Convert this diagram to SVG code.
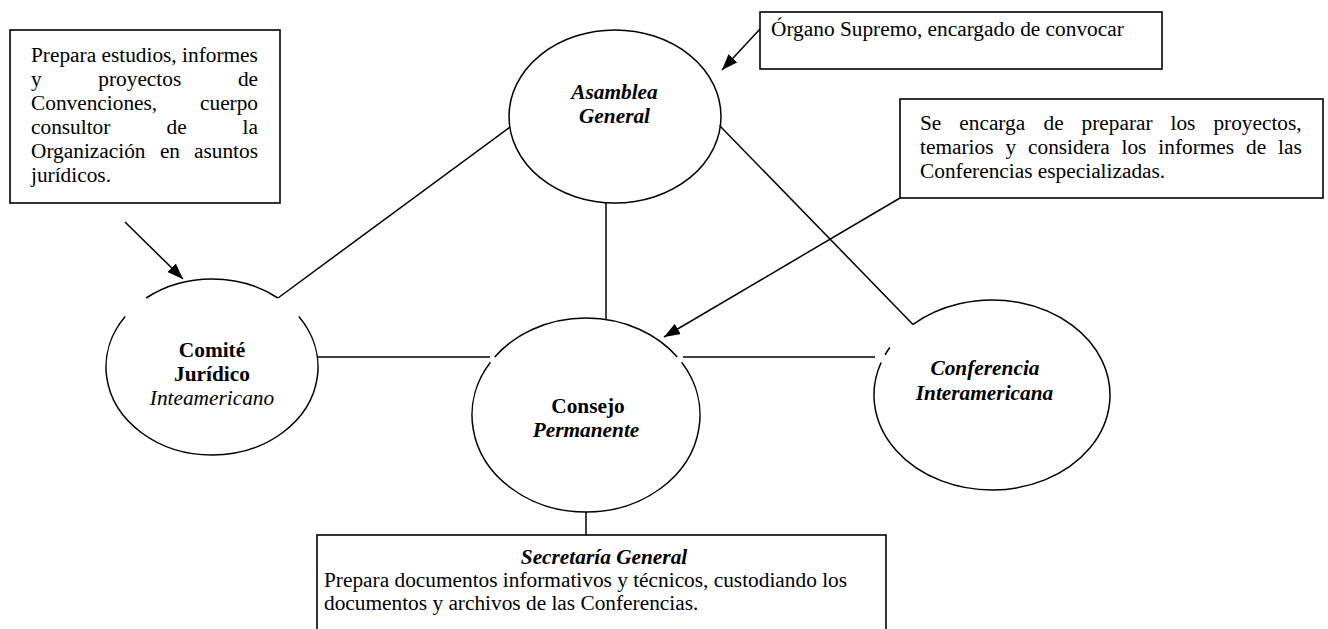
<svg xmlns="http://www.w3.org/2000/svg" width="1328" height="629" viewBox="0 0 1328 629">
<style>
  text { font-family: "Liberation Serif", "Times New Roman", serif; font-size: 21.33px; fill: #000; }
  .b { font-weight: bold; }
  .i { font-style: italic; }
  .bi { font-weight: bold; font-style: italic; }
  .shape { fill: none; stroke: #000; stroke-width: 1.5; }
  .box { fill: #fff; stroke: #000; stroke-width: 1.6; }
  .conn { fill: none; stroke: #000; stroke-width: 1.5; }
  .mid { text-anchor: middle; }
</style>
<defs>
  <marker id="arrow" markerUnits="userSpaceOnUse" markerWidth="17" markerHeight="13" refX="16" refY="6" orient="auto">
    <path d="M0,0 L16,6 L0,12 z" fill="#000"/>
  </marker>
</defs>
<rect width="1328" height="629" fill="#fff"/>

<g id="connectors">
  <line class="conn" x1="278" y1="298" x2="510" y2="127"/>
  <line class="conn" x1="606" y1="203" x2="606" y2="319.5"/>
  <line class="conn" x1="719.5" y1="125.5" x2="913" y2="324.4"/>
  <line class="conn" x1="318" y1="357" x2="490" y2="357"/>
  <line class="conn" x1="683" y1="357" x2="875" y2="357"/>
  <line class="conn" x1="586" y1="512" x2="586" y2="535"/>
  <line class="conn" x1="125" y1="222" x2="183" y2="279" marker-end="url(#arrow)"/>
  <line class="conn" x1="760" y1="29" x2="722" y2="70" marker-end="url(#arrow)"/>
  <line class="conn" x1="900" y1="198" x2="664" y2="337" marker-end="url(#arrow)"/>
</g>

<g id="note-juridico">
  <rect class="box" x="10" y="30" width="270" height="173"/>
  <text y="61.5"><tspan x="31">Prepara estudios, informes</tspan></text>
  <text y="85.5"><tspan x="31">y</tspan><tspan x="98.3">proyectos</tspan><tspan x="237.9">de</tspan></text>
  <text y="109.5"><tspan x="31">Convenciones,</tspan><tspan x="200">cuerpo</tspan></text>
  <text y="133.5"><tspan x="31">consultor</tspan><tspan x="166.5">de</tspan><tspan x="242.6">la</tspan></text>
  <text y="157.5"><tspan x="31">Organización</tspan><tspan x="159.9">en</tspan><tspan x="194">asuntos</tspan></text>
  <text y="181.5"><tspan x="31">jurídicos.</tspan></text>
</g>

<g id="note-organo">
  <rect class="box" x="760" y="12" width="402" height="57"/>
  <text x="771" y="36">Órgano Supremo, encargado de convocar</text>
</g>

<g id="note-conferencias">
  <rect class="box" x="900" y="99" width="423" height="99"/>
  <text y="130"><tspan x="920">Se</tspan><tspan x="959.3">encarga</tspan><tspan x="1043.5">de</tspan><tspan x="1081.6">preparar</tspan><tspan x="1170.5">los</tspan><tspan x="1213.4">proyectos,</tspan></text>
  <text y="154"><tspan x="920">temarios</tspan><tspan x="1005.4">y</tspan><tspan x="1028">considera</tspan><tspan x="1121.5">los</tspan><tspan x="1158.3">informes</tspan><tspan x="1246">de</tspan><tspan x="1278">las</tspan></text>
  <text x="920" y="178">Conferencias especializadas.</text>
</g>

<g id="node-asamblea">
  <ellipse class="shape" cx="615" cy="116.5" rx="106" ry="86.5"/>
  <text class="bi mid" x="614.5" y="99">Asamblea</text>
  <text class="bi mid" x="614.5" y="123">General</text>
</g>

<g id="node-comite">
  <path class="shape" d="M298.8,316.5 A106,88 0 1 1 125.2,316.5"/>
  <path class="shape" d="M146.2,298 A106,88 0 0 1 277.8,298"/>
  <text class="b mid" x="212" y="357">Comité</text>
  <text class="b mid" x="212" y="381">Jurídico</text>
  <text class="i mid" x="212" y="405">Inteamericano</text>
</g>

<g id="node-consejo">
  <path class="shape" d="M681.6,362.2 A114,97 0 1 1 490.4,362.2"/>
  <path class="shape" d="M494.7,357 A114,97 0 0 1 677.3,357"/>
  <text class="b mid" x="588" y="413">Consejo</text>
  <text class="bi mid" x="586" y="437">Permanente</text>
</g>

<g id="node-conferencia">
  <path class="shape" d="M913,324.4 A118,95 0 1 1 881.1,362.5"/>
  <path class="shape" d="M885.1,354.8 A118,95 0 0 1 889.8,347.5"/>
  <text class="bi mid" x="985" y="375">Conferencia</text>
  <text class="bi mid" x="984.5" y="399.5">Interamericana</text>
</g>

<g id="node-secretaria">
  <rect class="box" x="317" y="535" width="569" height="110"/>
  <text class="bi mid" x="604" y="563.5">Secretaría General</text>
  <text x="324" y="587">Prepara documentos informativos y técnicos, custodiando los</text>
  <text x="324" y="610">documentos y archivos de las Conferencias.</text>
</g>
</svg>
